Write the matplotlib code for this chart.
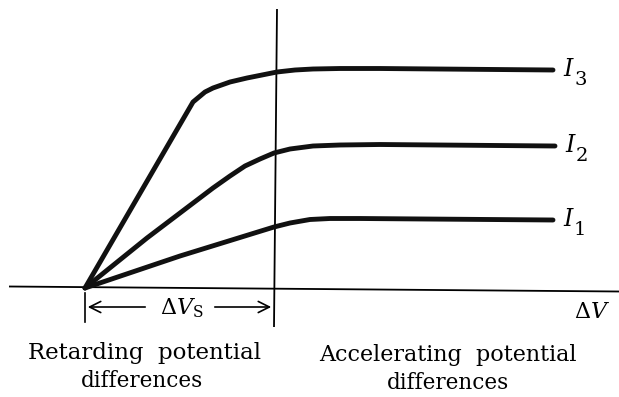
import matplotlib
matplotlib.use("Agg")
import matplotlib.pyplot as plt

plt.rcParams['font.family'] = ['DejaVu Serif']
plt.rcParams['mathtext.fontset'] = 'dejavuserif'

# Data (V relative to vertical axis, I above horizontal axis; arbitrary units)
v_i3 = [-190, -82, -76, -70, -62, -45, -28, -13, 2, 20, 38, 65, 105, 278]
i_i3 = [0, 186, 191, 196, 200, 206, 210, 213, 216, 218, 219, 219.5, 219.5, 218]
v_i2 = [-190, -128, -95, -62, -45, -30, -15, -1, 15, 38, 65, 105, 280]
i_i2 = [0, 50, 75, 100, 112, 122, 129, 135, 139, 142, 143, 143.5, 142]
v_i1 = [-190, -95, -1, 15, 35, 55, 85, 278]
i_i1 = [0, 32, 61, 65, 68.5, 69.5, 69.5, 68]
curve_names = ["3", "2", "1"]
stop_v = -190

fig = plt.figure(figsize=(6.19, 3.97), dpi=100)
ax = fig.add_axes([0, 0, 1, 1])
ax.set_xlim(-275, 344)
ax.set_ylim(-109, 288)
ax.axis('off')

# axes lines
ax.plot([-266, 344], [1.5, -3.5], color='black', lw=1.3, solid_capstyle='butt')
ax.plot([2, -1], [279, -39], color='black', lw=1.3, solid_capstyle='butt')

for v, i, name in zip([v_i3, v_i2, v_i1], [i_i3, i_i2, i_i1], curve_names):
    ax.plot(v, i, color='#111111', lw=3.5, solid_capstyle='round', solid_joinstyle='round')
    ax.text(v[-1] + 10, i[-1] + 1, "$I$", fontsize=17, ha='left', va='center')
    ax.text(v[-1] + 21, i[-1] - 10, name, fontsize=14, ha='left', va='center')

# Delta V_S bracket
ax.plot([stop_v, stop_v], [-5, -34], color='black', lw=1.2)
ax.annotate('', xy=(stop_v, -19), xytext=(stop_v + 63, -19),
            arrowprops=dict(arrowstyle='->', lw=1.2, color='black', mutation_scale=20))
ax.annotate('', xy=(-1, -19), xytext=(-63, -19),
            arrowprops=dict(arrowstyle='->', lw=1.2, color='black', mutation_scale=20))
ax.text(-93, -20, r"$\Delta V_{\mathrm{S}}$", fontsize=16, ha='center', va='center')

ax.text(317, -24, r"$\Delta V$", fontsize=16, ha='center', va='center')

ax.text(-130, -65, "Retarding  potential", fontsize=16.5, ha='center', va='center')
ax.text(-133, -93, "differences", fontsize=15.5, ha='center', va='center')
ax.text(173, -67, "Accelerating  potential", fontsize=16, ha='center', va='center')
ax.text(173, -95, "differences", fontsize=15.5, ha='center', va='center')

fig.savefig("out.png", dpi=100)
